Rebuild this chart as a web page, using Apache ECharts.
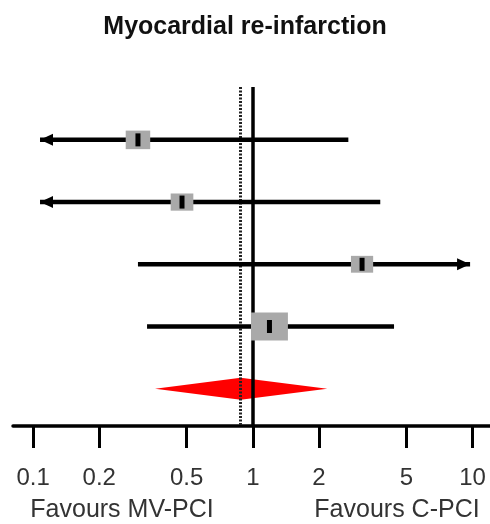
<!DOCTYPE html>
<html>
<head>
<meta charset="utf-8">
<script src="https://cdn.jsdelivr.net/npm/echarts@6/dist/echarts.min.js"></script>
<style>
  html, body { margin: 0; padding: 0; background: #fff; }
  #chart { width: 490px; height: 524px; }
</style>
</head>
<body>
<div id="chart"></div>
<script>
// odds ratios of the single studies (lo/hi beyond the plotted range get an arrow)
const studyEst = [0.30, 0.476, 3.14, 1.19];
const studyLo = [0.05, 0.06, 0.30, 0.33];
const studyHi = [2.72, 3.8, 14, 4.39];
const studyWeight = [20.2, 17.3, 16.6, 45.9];
// pooled estimate: est, lo, hi
const pooled = [0.88, 0.359, 2.18];
const tickValues = [0.1, 0.2, 0.5, 1, 2, 5, 10];
const favourLabels = ['Favours MV-PCI', 'Favours C-PCI'];

// where the CI lines are cut and turned into arrows
const arrowMin = 0.1075;
const arrowMax = 9.74;

const rowData = studyEst.map((e, i) => [e, studyLo[i], studyHi[i], i + 1, studyWeight[i]]);
const pooledData = [[pooled[0], pooled[1], pooled[2], studyEst.length + 1]];

function renderStudy(params, api) {
  const est = api.value(0), lo = api.value(1), hi = api.value(2), row = api.value(3), w = api.value(4);
  const p0 = api.coord([Math.max(lo, arrowMin), row]);
  const p1 = api.coord([Math.min(hi, arrowMax), row]);
  const pc = api.coord([est, row]);
  const children = [{
    type: 'line',
    shape: { x1: p0[0], y1: p0[1], x2: p1[0], y2: p1[1] },
    style: { stroke: '#000', lineWidth: 4.5 }
  }];
  if (lo < arrowMin) {
    children.push({
      type: 'polygon',
      shape: { points: [[p0[0], p0[1]], [p0[0] + 13, p0[1] - 6], [p0[0] + 13, p0[1] + 6]] },
      style: { fill: '#000' }
    });
  }
  if (hi > arrowMax) {
    children.push({
      type: 'polygon',
      shape: { points: [[p1[0], p1[1]], [p1[0] - 13, p1[1] - 6], [p1[0] - 13, p1[1] + 6]] },
      style: { fill: '#000' }
    });
  }
  // box area follows study weight
  const bw = 5.45 * Math.sqrt(w), bh = 4.13 * Math.sqrt(w);
  children.push({
    type: 'rect',
    shape: { x: pc[0] - bw / 2, y: pc[1] - bh / 2, width: bw, height: bh },
    style: { fill: '#a9a9a9' }
  });
  children.push({
    type: 'rect',
    shape: { x: pc[0] - 2.5, y: pc[1] - 6.5, width: 5, height: 13 },
    style: { fill: '#000' }
  });
  return { type: 'group', children: children };
}

function renderDiamond(params, api) {
  const row = api.value(3);
  const pe = api.coord([api.value(0), row]);
  const pl = api.coord([api.value(1), row]);
  const ph = api.coord([api.value(2), row]);
  return {
    type: 'polygon',
    shape: { points: [[pl[0], pl[1]], [pe[0], pe[1] - 11], [ph[0], ph[1]], [pe[0], pe[1] + 11]] },
    style: { fill: '#ff0000' }
  };
}

const chart = echarts.init(document.getElementById('chart'));
const option = {
  animation: false,
  title: {
    text: 'Myocardial re-infarction',
    left: 'center',
    top: 10,
    textStyle: { fontFamily: 'Liberation Sans, Arial', fontSize: 25, fontWeight: 'bold', color: '#111' }
  },
  grid: { left: 13, right: 0, top: 87, bottom: 98 },
  xAxis: {
    type: 'log',
    min: 0.081,
    max: 12.0,
    axisLine: { show: true, lineStyle: { color: '#000', width: 3.5 } },
    axisTick: { show: true, customValues: tickValues, length: 22, lineStyle: { color: '#000', width: 3 } },
    axisLabel: {
      customValues: tickValues,
      margin: 40,
      fontSize: 24,
      fontFamily: 'Liberation Sans, Arial',
      color: '#333',
      formatter: v => String(v)
    },
    splitLine: { show: false },
    minorTick: { show: false }
  },
  yAxis: {
    type: 'value',
    inverse: true,
    min: 0.15,
    max: 5.6,
    show: false
  },
  graphic: [
    {
      type: 'text', x: 122, y: 510,
      style: { text: favourLabels[0], fontSize: 25, fontFamily: 'Liberation Sans, Arial', fill: '#333', align: 'center', verticalAlign: 'middle' }
    },
    {
      type: 'text', x: 397, y: 510,
      style: { text: favourLabels[1], fontSize: 25, fontFamily: 'Liberation Sans, Arial', fill: '#333', align: 'center', verticalAlign: 'middle' }
    }
  ],
  series: [
    {
      type: 'custom',
      z: 1,
      renderItem: renderDiamond,
      data: pooledData,
      encode: { x: [0, 1, 2], y: 3 },
      markLine: {
        z: 2,
        silent: true,
        symbol: 'none',
        label: { show: false },
        data: [
          { xAxis: 1, lineStyle: { color: '#000', width: 3.5, type: 'solid' } },
          { xAxis: pooled[0], lineStyle: { color: '#222', width: 3, type: [2, 1.5] } }
        ]
      }
    },
    {
      type: 'custom',
      z: 3,
      renderItem: renderStudy,
      data: rowData,
      encode: { x: [0, 1, 2], y: 3 }
    }
  ]
};
chart.setOption(option);
</script>
</body>
</html>
